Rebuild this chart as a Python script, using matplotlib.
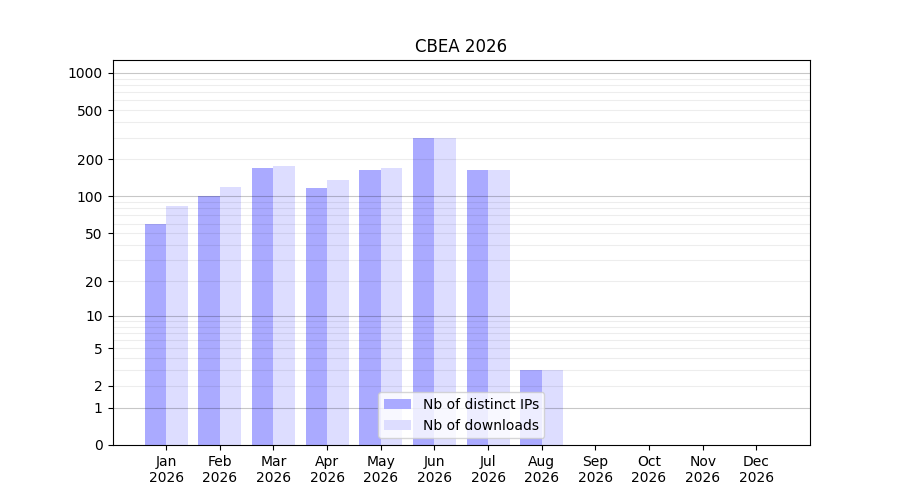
import matplotlib
matplotlib.use('Agg')
import matplotlib.pyplot as plt
from matplotlib.ticker import NullLocator
import numpy as np

months = ['Jan', 'Feb', 'Mar', 'Apr', 'May', 'Jun', 'Jul', 'Aug',
          'Sep', 'Oct', 'Nov', 'Dec']
year = '2026'
distinct_ips = [60, 100, 170, 118, 163, 300, 165, 3, 0, 0, 0, 0]
downloads = [83, 120, 175, 135, 170, 300, 165, 3, 0, 0, 0, 0]
ytick_vals = [0, 1, 2, 5, 10, 20, 50, 100, 200, 500, 1000]

def fwd(v):
    return np.log10(np.asarray(v) + 1.0)

def inv(v):
    return 10.0 ** np.asarray(v) - 1.0

fig, ax = plt.subplots(figsize=(9, 5), dpi=100)
x = np.arange(len(months))
w = 0.4
ax.bar(x - w / 2, distinct_ips, width=w, color='#aaaaff', label='Nb of distinct IPs')
ax.bar(x + w / 2, downloads, width=w, color='#ddddff', label='Nb of downloads')

ax.set_yscale('function', functions=(fwd, inv))
ax.set_ylim(0, 1270)
ax.set_xlim(-1, 12)
ax.set_yticks(ytick_vals)
ax.set_yticklabels([str(v) for v in ytick_vals])
ax.yaxis.set_minor_locator(NullLocator())

# grid lines drawn on top of the bars, semi transparent
gridvals = [m * 10 ** d for d in range(0, 4) for m in range(1, 10)]
for v in gridvals:
    if v > 1270:
        continue
    if v in (1, 10, 100, 1000):
        ax.axhline(v, color='black', alpha=0.22, lw=0.8, zorder=3)
    else:
        ax.axhline(v, color='black', alpha=0.07, lw=0.8, zorder=3)

ax.set_xticks(x)
ax.set_xticklabels([f'{m}\n{year}' for m in months])
ax.set_title('CBEA 2026')
ax.legend(loc='lower center')

fig.savefig('out.png')
